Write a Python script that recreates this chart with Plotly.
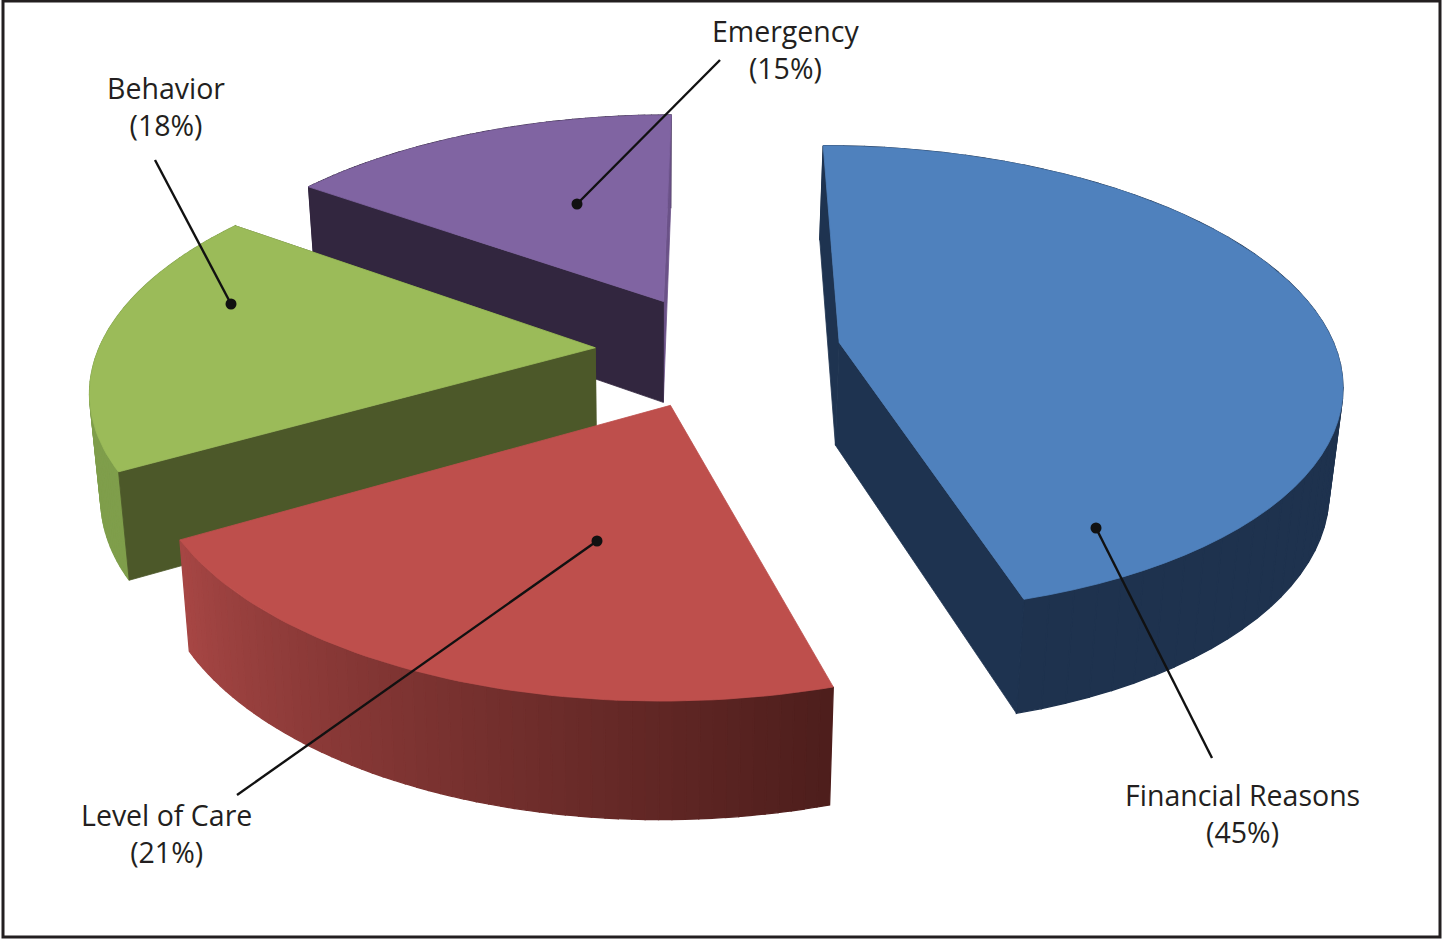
import numpy as np
import plotly.graph_objects as go

categories = ["Financial Reasons", "Level of Care", "Behavior", "Emergency"]
shares = [45, 21, 18, 15]

top_colors = ["#4F81BD", "#BE4F4C", "#9BBB59", "#8064A2"]
cut_start_colors = ["#1E3350", None, "#4C5829", "#32263F"]
cut_end_colors = ["#1E3350", None, "#4C5829", "#6B5288"]
rim_start_colors = [(30, 50, 78), (78, 30, 28), (127, 158, 75), (50, 38, 65)]
rim_end_colors = [(30, 50, 78), (166, 70, 68), (127, 158, 75), (50, 38, 65)]

label_pos = [(1242, 813), (166, 833), (166, 106), (785, 49)]
leader_from = [(1212, 758), (237, 795), (155, 160), (720, 60)]
leader_to = [(1096, 528), (597, 541), (231, 304), (577, 204)]

# projection of the pie plane onto the canvas
CX, CY, RX, RY, PERSP = 718, 350.5, 497, 230, 0.157
EXPLODE = 0.2477
START = np.radians(0.05)
VX, SHRINK = 650, 0.02
H_A, H_B = 38, 65
DRAW_ORDER = [3, 2, 0, 1]


def project(X, Y, z=0.0):
    X, Y = np.asarray(X, float), np.asarray(Y, float)
    w = 1 / (1 + PERSP * Y)
    x = CX + RX * X * w
    y = CY - RY * Y * w + z * (H_A + H_B * w)
    x = x - (x - VX) * SHRINK * z
    return x, y


def poly(fig, xs, ys, color, lw=0.8):
    fig.add_trace(go.Scatter(x=list(xs), y=list(ys), mode="lines", fill="toself",
                             fillcolor=color, line=dict(color=color, width=lw),
                             hoverinfo="skip", showlegend=False))


total = sum(shares)
spans = np.array(shares) / total * 2 * np.pi
starts = START + np.concatenate([[0], np.cumsum(spans)[:-1]])

fig = go.Figure()

for i in DRAW_ORDER:
    a0, a1 = starts[i], starts[i] + spans[i]
    mid = (a0 + a1) / 2
    ox, oy = EXPLODE * np.sin(mid), EXPLODE * np.cos(mid)
    th = np.linspace(a0, a1, 61)
    rx, ry = ox + np.sin(th), oy + np.cos(th)

    # outer rim, shaded strip by strip
    tx, ty = project(rx, ry, 0)
    bx, by = project(rx, ry, 1)
    for k in range(len(th) - 1):
        t = k / (len(th) - 2)
        c = [round(a + (b - a) * t) for a, b in zip(rim_start_colors[i], rim_end_colors[i])]
        poly(fig, [tx[k], tx[k + 1], bx[k + 1], bx[k], tx[k]],
             [ty[k], ty[k + 1], by[k + 1], by[k], ty[k]], f"rgb({c[0]},{c[1]},{c[2]})", lw=1.3)

    # straight cut faces (None = hidden from this viewpoint)
    ax, ay = project([ox], [oy], 0)
    cx, cy = project([ox], [oy], 1)
    for idx, col in ((-1, cut_end_colors[i]), (0, cut_start_colors[i])):
        if col is not None:
            poly(fig, [ax[0], tx[idx], bx[idx], cx[0], ax[0]],
                 [ay[0], ty[idx], by[idx], cy[0], ay[0]], col)

    # top face
    poly(fig, np.concatenate([ax, tx, ax]), np.concatenate([ay, ty, ay]), top_colors[i])

for (x0, y0), (x1, y1) in zip(leader_from, leader_to):
    fig.add_trace(go.Scatter(x=[x0, x1], y=[y0, y1], mode="lines", hoverinfo="skip",
                             line=dict(color="#111111", width=2.4), showlegend=False))
    fig.add_trace(go.Scatter(x=[x1], y=[y1], mode="markers", hoverinfo="skip",
                             marker=dict(color="#111111", size=11), showlegend=False))

annotations = [
    dict(x=x, y=y, text=f"{name}<br>({v}%)", showarrow=False, xanchor="center", yanchor="middle",
         font=dict(family="Open Sans", size=28.5, color="#231F20"))
    for name, v, (x, y) in zip(categories, shares, label_pos)
]

fig.update_layout(
    width=1442, height=939, margin=dict(l=0, r=0, t=0, b=0),
    paper_bgcolor="white", plot_bgcolor="white",
    xaxis=dict(range=[0, 1442], visible=False, fixedrange=True),
    yaxis=dict(range=[939, 0], visible=False, fixedrange=True),
    annotations=annotations,
    shapes=[dict(type="rect", xref="x", yref="y", x0=3, y0=1, x1=1440, y1=937,
                 line=dict(color="#231F20", width=3), layer="below")],
)

fig.write_html("out.html", config={"displayModeBar": False},
               post_script="document.body.style.margin='0';")
